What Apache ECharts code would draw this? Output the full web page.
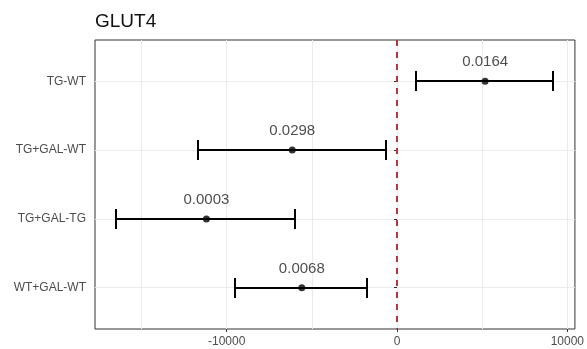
<!DOCTYPE html>
<html>
<head>
<meta charset="utf-8">
<script src="https://cdn.jsdelivr.net/npm/echarts@6/dist/echarts.min.js"></script>
<style>html,body{margin:0;padding:0;background:#fff}#c{width:587px;height:349px}</style>
</head>
<body>
<div id="c"></div>
<script>
const categories = ['TG-WT', 'TG+GAL-WT', 'TG+GAL-TG', 'WT+GAL-WT'];
const estimates = [5174, -6152, -11191, -5590];
const lower = [1131, -11701, -16523, -9492];
const upper = [9158, -645, -6018, -1740];
const pLabels = ['0.0164', '0.0298', '0.0003', '0.0068'];
const xMajorTicks = [-10000, 0, 10000];
const xGridLines = [-15000, -10000, -5000, 0, 5000, 10000];
const yPositions = [1, 2, 3, 4];

const FONT = 'Liberation Sans, Arial, sans-serif';
const chart = echarts.init(document.getElementById('c'));

const barData = categories.map((c, i) => [lower[i], upper[i], yPositions[i]]);
const pointData = categories.map((c, i) => [estimates[i], yPositions[i]]);

chart.setOption({
  animation: false,
  title: {
    text: 'GLUT4', left: 95, top: 12, padding: 0,
    textStyle: { fontFamily: FONT, fontSize: 19, fontWeight: 'normal', color: '#111' }
  },
  grid: {
    left: 95, top: 40, right: 11, bottom: 20,
    show: true, borderColor: '#333', borderWidth: 1, backgroundColor: '#fff'
  },
  xAxis: {
    type: 'value', min: -17733, max: 10446,
    axisLine: { show: false },
    splitLine: { show: false },
    axisTick: { show: true, length: 3, customValues: xMajorTicks, lineStyle: { color: '#333' } },
    axisLabel: {
      customValues: xMajorTicks, margin: 7, fontFamily: FONT, fontSize: 12, color: '#4d4d4d',
      formatter: v => String(Math.round(v))
    }
  },
  yAxis: {
    type: 'value', min: 0.4, max: 4.6, inverse: true,
    axisLine: { show: false },
    splitLine: { show: false },
    axisTick: { show: true, length: 3, customValues: yPositions, lineStyle: { color: '#333' } },
    axisLabel: {
      customValues: yPositions, margin: 9, fontFamily: FONT, fontSize: 12, color: '#4d4d4d',
      formatter: v => categories[Math.round(v) - 1] || ''
    }
  },
  series: [
    {
      type: 'scatter', data: [], z: 0, silent: true,
      markLine: {
        z: 0, silent: true, symbol: 'none', label: { show: false },
        lineStyle: { color: '#ebebeb', width: 1, type: 'solid' },
        data: xGridLines.map(v => ({ xAxis: v })).concat(yPositions.map(v => ({ yAxis: v })))
      }
    },
    {
      type: 'scatter', data: [], z: 1, silent: true,
      markLine: {
        z: 1, silent: true, symbol: 'none', label: { show: false },
        lineStyle: { color: '#b8343c', width: 2, type: [6, 6] },
        data: [{ xAxis: 0 }]
      }
    },
    {
      type: 'custom', z: 3, data: barData,
      encode: { x: [0, 1], y: 2 },
      renderItem: function (params, api) {
        const a = api.coord([api.value(0), api.value(2)]);
        const b = api.coord([api.value(1), api.value(2)]);
        const y = Math.round(a[1]);
        const x1 = Math.round(a[0]), x2 = Math.round(b[0]);
        const h = 10;
        const style = { stroke: '#000', lineWidth: 2 };
        return {
          type: 'group',
          children: [
            { type: 'line', shape: { x1: x1, y1: y, x2: x2, y2: y }, style },
            { type: 'line', shape: { x1: x1, y1: y - h, x2: x1, y2: y + h }, style },
            { type: 'line', shape: { x1: x2, y1: y - h, x2: x2, y2: y + h }, style }
          ]
        };
      }
    },
    {
      type: 'scatter', z: 4, data: pointData, symbol: 'circle', symbolSize: 7,
      itemStyle: { color: '#000' },
      label: {
        show: true, position: 'top', distance: 8,
        fontFamily: FONT, fontSize: 15, color: '#222',
        formatter: p => pLabels[p.dataIndex]
      }
    }
  ]
});
</script>
</body>
</html>
